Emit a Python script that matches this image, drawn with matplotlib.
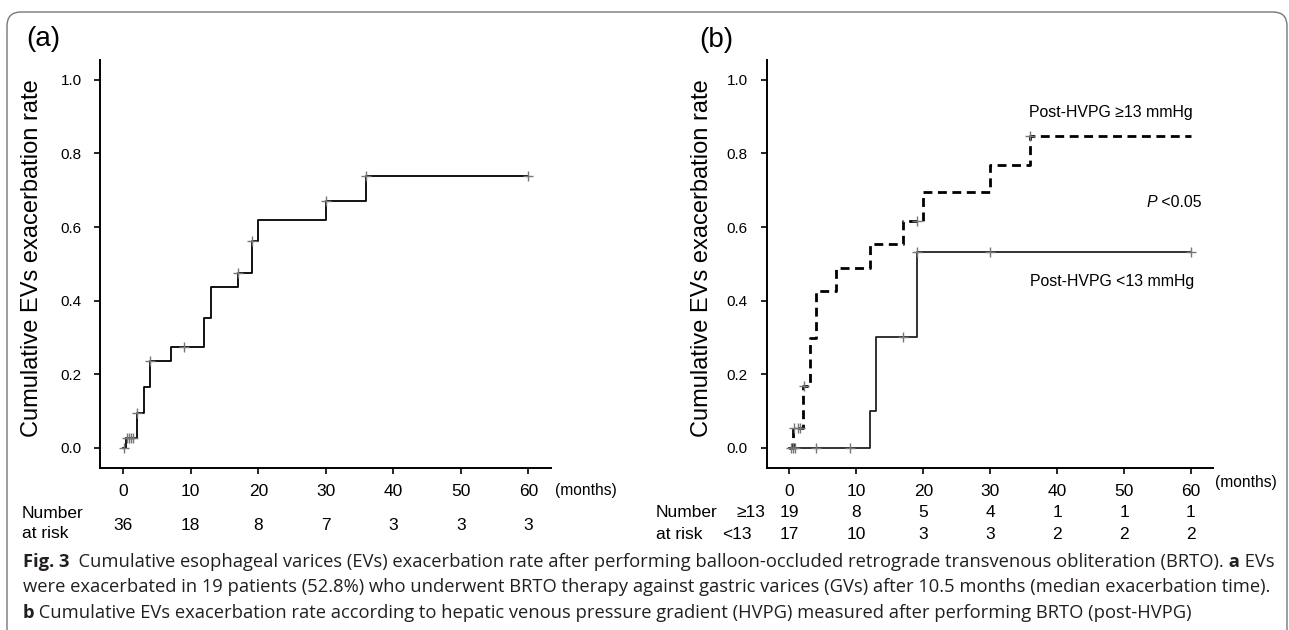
import matplotlib
matplotlib.use("Agg")
import matplotlib.pyplot as plt
from matplotlib.patches import FancyBboxPatch
from matplotlib.transforms import blended_transform_factory

plt.rcParams['font.family'] = ['Liberation Sans', 'DejaVu Sans']

# (a) cumulative EVs exacerbation rate, all patients
a_times = [0, 0.4, 2, 3, 4, 7, 12, 13, 17, 19, 20, 30, 36, 60]
a_rate = [0, 0.028, 0.095, 0.166, 0.236, 0.273, 0.354, 0.436, 0.476, 0.563, 0.618, 0.672, 0.738, 0.738]
a_cens_t = [0.1, 0.5, 0.9, 1.2, 1.5, 2, 4, 9, 17, 19, 30, 36, 60]
a_cens_y = [0, 0.028, 0.028, 0.028, 0.028, 0.095, 0.236, 0.273, 0.476, 0.563, 0.672, 0.738, 0.738]

# (b) post-HVPG >= 13 mmHg
hi_times = [0, 0.5, 2, 3, 4, 7, 12, 17, 20, 30, 36, 60]
hi_rate = [0, 0.054, 0.169, 0.299, 0.426, 0.490, 0.554, 0.617, 0.695, 0.770, 0.847, 0.847]
hi_cens_t = [0.75, 1.3, 1.6, 2.1, 19, 36]
hi_cens_y = [0.054, 0.054, 0.054, 0.169, 0.617, 0.847]

# (b) post-HVPG < 13 mmHg
lo_times = [0, 12, 13, 19, 60]
lo_rate = [0, 0.101, 0.30, 0.533, 0.533]
lo_cens_t = [0.3, 0.6, 0.9, 4, 9, 17, 19, 30, 60]
lo_cens_y = [0, 0, 0, 0, 0, 0.30, 0.533, 0.533, 0.533]

# number at risk
risk_months = [0, 10, 20, 30, 40, 50, 60]
a_risk = [36, 18, 8, 7, 3, 3, 3]
hi_risk = [19, 8, 5, 4, 1, 1, 1]
lo_risk = [17, 10, 3, 3, 2, 2, 2]

W, H = 1289, 630
fig = plt.figure(figsize=(W / 100, H / 100), dpi=100)

# pixel overlay for frame, labels and caption
over = fig.add_axes([0, 0, 1, 1])
over.set_xlim(0, W)
over.set_ylim(H, 0)
over.axis('off')
over.add_patch(FancyBboxPatch((7, 12), 1280, 700, boxstyle='round,pad=0,rounding_size=14',
                              fill=False, ec='#777777', lw=1))

gray = '#777777'


def style_axes(ax):
    ax.set_xlim(-3.4, 63.3)
    ax.set_ylim(-0.054, 1.054)
    ax.set_xticks(risk_months)
    ax.set_yticks([0, 0.2, 0.4, 0.6, 0.8, 1.0])
    ax.set_yticklabels(['0.0', '0.2', '0.4', '0.6', '0.8', '1.0'])
    for s in ['top', 'right']:
        ax.spines[s].set_visible(False)
    for s in ['left', 'bottom']:
        ax.spines[s].set_linewidth(1.4)
    ax.tick_params(axis='both', length=4.5, width=1.2, color='k')
    ax.tick_params(axis='x', labelsize=12.5, pad=7)
    ax.tick_params(axis='y', labelsize=11, pad=9)
    ax.patch.set_visible(False)


# panel (a)
axa = fig.add_axes([100.3 / W, 1 - 467.7 / H, 450.4 / W, 407.7 / H])
style_axes(axa)
axa.step(a_times, a_rate, where='post', color='k', lw=1.3)
axa.plot(a_cens_t, a_cens_y, ls='none', marker='+', ms=7, mew=1, color=gray)

# panel (b)
axb = fig.add_axes([766.7 / W, 1 - 467.7 / H, 446.3 / W, 407.7 / H])
style_axes(axb)
axb.step(hi_times, hi_rate, where='post', color='k', lw=2.0, ls=(0, (3.2, 2)))
axb.step(lo_times, lo_rate, where='post', color='#222222', lw=1.3)
axb.plot(hi_cens_t, hi_cens_y, ls='none', marker='+', ms=7, mew=1, color=gray)
axb.plot(lo_cens_t, lo_cens_y, ls='none', marker='+', ms=7, mew=1, color=gray)

# panel labels and y labels
ylab = 'Cumulative EVs exacerbation rate'
over.text(43, 39, '(a)', fontsize=20, ha='center', va='center')
over.text(716.5, 40, '(b)', fontsize=20, ha='center', va='center')
over.text(32, 258.4, ylab, fontsize=17, rotation=90, ha='center', va='center')
over.text(701.7, 258.4, ylab, fontsize=17, rotation=90, ha='center', va='center')
over.text(555, 490, '(months)', fontsize=11.2, ha='left', va='center')
over.text(1215, 483, '(months)', fontsize=11.2, ha='left', va='center')

# group labels in (b)
over.text(1029.3, 112.7, 'Post-HVPG \u226513 mmHg', fontsize=11.4, ha='left', va='center')
over.text(1030, 281.7, 'Post-HVPG <13 mmHg', fontsize=11.4, ha='left', va='center')
tp = over.text(1146.7, 202.7, 'P', fontsize=11.4, style='italic', ha='left', va='center')
over.annotate(' <0.05', xy=(1, 0.5), xycoords=tp, fontsize=11.4, ha='left', va='center')

# number at risk
over.text(22, 513, 'Number', fontsize=12.5, ha='left', va='center')
over.text(22, 533, 'at risk', fontsize=12.5, ha='left', va='center')
tra = blended_transform_factory(axa.transData, over.transData)
for m, n in zip(risk_months, a_risk):
    over.text(m, 525, str(n), transform=tra, fontsize=12.5, ha='center', va='center')

over.text(656, 512.7, 'Number', fontsize=12.5, ha='left', va='center')
over.text(736.7, 512.7, '\u226513', fontsize=12.5, ha='left', va='center')
over.text(656, 534.3, 'at risk', fontsize=12.5, ha='left', va='center')
over.text(721.7, 534.3, '<13', fontsize=12.5, ha='left', va='center')
trb = blended_transform_factory(axb.transData, over.transData)
for m, n1, n2 in zip(risk_months, hi_risk, lo_risk):
    over.text(m, 512.7, str(n1), transform=trb, fontsize=12.5, ha='center', va='center')
    over.text(m, 534.3, str(n2), transform=trb, fontsize=12.5, ha='center', va='center')

# caption
cap = dict(fontsize=13.2, family=['Open Sans', 'DejaVu Sans'], color='#231f20', va='center', ha='left')
t = over.text(22.7, 561.7, 'Fig. 3', weight='bold', **cap)
t = over.annotate('  Cumulative esophageal varices (EVs) exacerbation rate after performing '
                  'balloon-occluded retrograde transvenous obliteration (BRTO).',
                  xy=(1, 0.5), xycoords=t, **cap)
t = over.annotate(' a', xy=(1, 0.5), xycoords=t, weight='bold', **cap)
over.annotate(' EVs', xy=(1, 0.5), xycoords=t, **cap)
over.text(22.7, 586.7, 'were exacerbated in 19 patients (52.8%) who underwent BRTO therapy against '
          'gastric varices (GVs) after 10.5 months (median exacerbation time).', **cap)
t = over.text(22.7, 613, 'b', weight='bold', **cap)
over.annotate(' Cumulative EVs exacerbation rate according to hepatic venous pressure gradient '
              '(HVPG) measured after performing BRTO (post-HVPG)',
              xy=(1, 0.5), xycoords=t, **cap)

fig.savefig('out.png', dpi=100)
